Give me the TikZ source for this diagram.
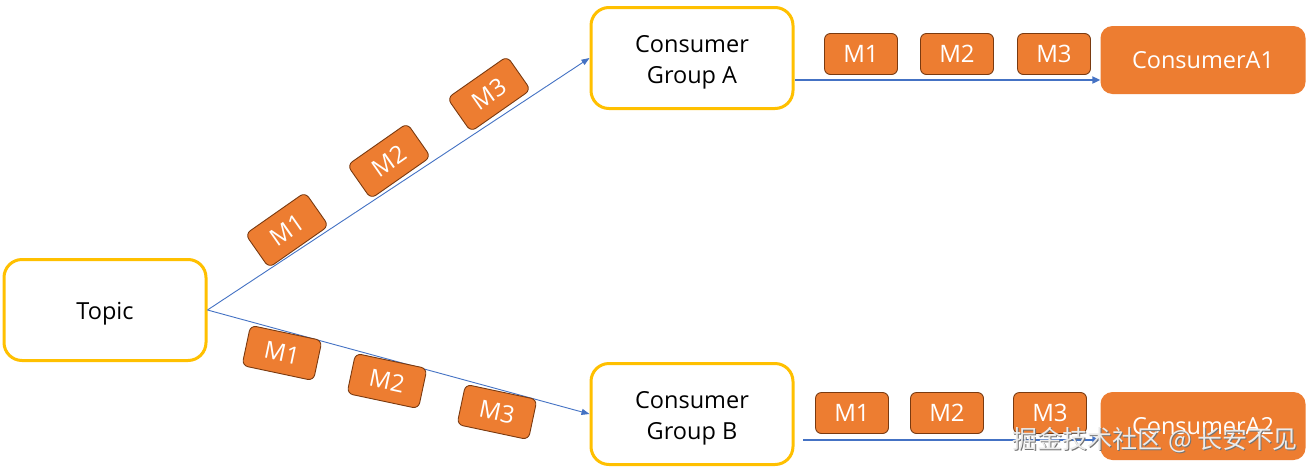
\documentclass[tikz,border=0pt]{standalone}
\usepackage{fontspec}
\setmainfont{Open Sans}
\newfontfamily\cjk{Noto Sans CJK SC}
\usetikzlibrary{arrows.meta}
\definecolor{ygold}{HTML}{FFC000}
\definecolor{morange}{HTML}{ED7D31}
\definecolor{mbrown}{HTML}{7A3A10}
\definecolor{lblue}{HTML}{4472C4}
\begin{document}
\begin{tikzpicture}[x=1pt,y=-1pt,
  groupbox/.style={draw=ygold, line width=3pt, rounded corners=18pt, fill=white,
    minimum width=202pt, minimum height=101pt},
  grouptext/.style={align=center, inner sep=0pt, font=\fontsize{23.5}{31}\selectfont},
  msg/.style={draw=mbrown, line width=0.9pt, fill=morange, rounded corners=6pt,
    minimum width=73pt, minimum height=41pt, inner sep=0pt, text=white,
    font=\fontsize{24}{28}\selectfont},
  consumer/.style={fill=morange, rounded corners=12pt, minimum width=205pt,
    minimum height=68pt, text=white, font=\fontsize{23.5}{28}\selectfont},
  thinarrow/.style={draw=lblue, line width=0.9pt, -{Triangle[length=8pt,width=6pt]}},
  thickarrow/.style={draw=lblue, line width=2.8pt, -{Triangle[length=8pt,width=7pt]}},
  wmark/.style={font=\cjk\fontsize{25}{30}\selectfont}]
\useasboundingbox[fill=white] (0,0) rectangle (1315,472);

\node[groupbox] (topic) at (105,310) {};
\node[groupbox] (ga) at (692,58) {};
\node[groupbox] (gb) at (692,414) {};
\node[grouptext] (topict) at ([yshift=-4pt]topic.center) {Topic};
\node[grouptext] (gat) at ([yshift=-4pt]ga.center) {Consumer\\Group A};
\node[grouptext] (gbt) at ([yshift=-4pt]gb.center) {Consumer\\Group B};

\node[consumer] (ca1) at (1203,60) {ConsumerA1};
\node[consumer] (ca2) at (1203,426) {ConsumerA2};

% diagonal connectors
\draw[thinarrow] (topic.east) -- (ga.west);
\draw[thinarrow] (topic.east) -- (gb.west);

% horizontal connectors
\coordinate (as) at (795,80);
\coordinate (bs) at (803,440);
\draw[thickarrow] (as) -- (as -| ca1.west);
\draw[thickarrow] (bs) -- (bs -| ca2.west);

% messages on upper diagonal
\node[msg, rotate=35] (u1) at (287,230) {M1};
\node[msg, rotate=35] (u2) at (389,161) {M2};
\node[msg, rotate=35] (u3) at (489,94) {M3};

% messages on lower diagonal
\node[msg, rotate=-12] (l1) at (282,353) {M1};
\node[msg, rotate=-12] (l2) at (387,381) {M2};
\node[msg, rotate=-12] (l3) at (497,412) {M3};

% messages on horizontal lines
\node[msg] (h1) at (861,54) {M1};
\node[msg] (h2) at (957,54) {M2};
\node[msg] (h3) at (1054,54) {M3};
\node[msg] (k1) at (852,413) {M1};
\node[msg] (k2) at (947,413) {M2};
\node[msg] (k3) at (1050,413) {M3};

% watermark
\node[wmark, text=black!55] (wms) at (1156,441) {掘金技术社区 @ 长安不见};
\node[wmark, text=white!92!black] (wm) at (1155.2,440.2) {掘金技术社区 @ 长安不见};
\end{tikzpicture}
\end{document}
